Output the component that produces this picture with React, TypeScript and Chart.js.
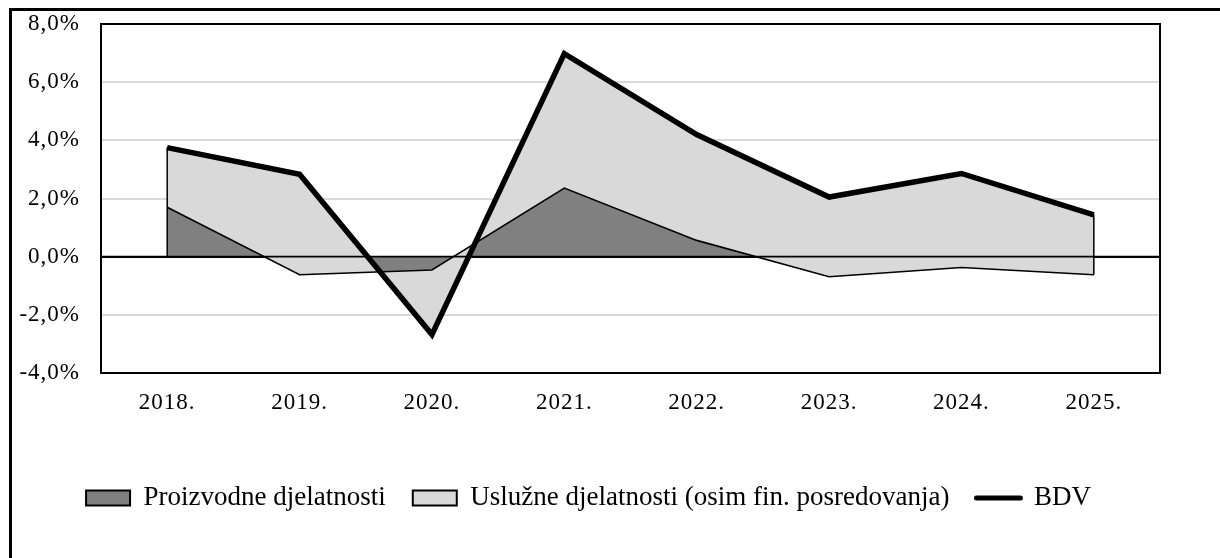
import React, { useEffect, useRef } from 'react';
import { Chart, registerables } from 'chart.js';

Chart.register(...registerables);

// ---- data (percent) ----
const years = ['2018.', '2019.', '2020.', '2021.', '2022.', '2023.', '2024.', '2025.'];
const proizvodne = [1.7, -0.62, -0.46, 2.36, 0.56, -0.69, -0.37, -0.62];
const usluzne = [2.05, 3.45, -2.22, 4.62, 3.64, 2.74, 3.23, 2.06];
const bdv = [3.75, 2.83, -2.68, 6.98, 4.2, 2.05, 2.86, 1.44];
const yMin = -4;
const yMax = 8;
const yStep = 2;

const seriesLabels = [
  'Proizvodne djelatnosti',
  'Uslužne djelatnosti (osim fin. posredovanja)',
  'BDV',
];

const FONT = "'Liberation Serif', 'Times New Roman', serif";

const fmtPct = (v: number) => Number(v).toFixed(1).replace('.', ',') + '%';

const decorPlugin = {
  id: 'decor',
  beforeDraw(chart: any) {
    chart.ctx.letterSpacing = '0px';
  },
  afterDatasetDraw(chart: any, args: any) {
    if (args.index !== 1) return;
    const { ctx, chartArea } = chart;
    const yScale = chart.scales.y;
    const y0 = yScale.getPixelForValue(0);
    ctx.save();
    ctx.strokeStyle = '#000';
    ctx.lineWidth = 1.75;
    ctx.beginPath();
    ctx.moveTo(chartArea.left, y0);
    ctx.lineTo(chartArea.right, y0);
    ctx.stroke();
    const low = chart.getDatasetMeta(0).data;
    const top = chart.getDatasetMeta(1).data;
    ctx.lineWidth = 1.5;
    [0, top.length - 1].forEach((i) => {
      ctx.beginPath();
      ctx.moveTo(low[i].x, y0);
      ctx.lineTo(low[i].x, low[i].y);
      ctx.moveTo(top[i].x, low[i].y);
      ctx.lineTo(top[i].x, top[i].y);
      ctx.stroke();
    });
    ctx.restore();
  },
  afterDatasetsDraw(chart: any) {
    chart.ctx.letterSpacing = '1px';
  },
  afterDraw(chart: any) {
    const { ctx, chartArea: a } = chart;
    ctx.letterSpacing = '0px';
    ctx.save();
    ctx.strokeStyle = '#000';
    ctx.lineWidth = 2;
    ctx.strokeRect(a.left, a.top, a.right - a.left, a.bottom - a.top);
    ctx.restore();
  },
};

export default function App() {
  const ref = useRef<HTMLCanvasElement>(null);

  useEffect(() => {
    if (!ref.current) return;
    const stackedTop = proizvodne.map((v, i) => v + usluzne[i]);
    const chart = new Chart(ref.current, {
      type: 'line',
      data: {
        labels: years,
        datasets: [
          {
            label: seriesLabels[0],
            data: proizvodne,
            backgroundColor: '#808080',
            borderColor: '#000',
            borderWidth: 1.6,
            fill: 'origin',
            pointRadius: 0,
            tension: 0,
            order: 2,
          },
          {
            label: seriesLabels[1],
            data: stackedTop,
            backgroundColor: '#d9d9d9',
            borderColor: '#000',
            borderWidth: 1.6,
            fill: '-1',
            pointRadius: 0,
            tension: 0,
            order: 1,
          },
          {
            label: seriesLabels[2],
            data: bdv,
            backgroundColor: '#000',
            borderColor: '#000',
            borderWidth: 5.5,
            borderJoinStyle: 'miter',
            borderCapStyle: 'butt',
            fill: false,
            pointRadius: 0,
            tension: 0,
            order: 0,
          },
        ],
      },
      options: {
        responsive: false,
        maintainAspectRatio: false,
        animation: false,
        events: [],
        layout: { padding: { left: 5, right: 60, top: 13, bottom: 36.5 } },
        scales: {
          x: {
            type: 'category',
            offset: true,
            grid: { display: false, drawTicks: false },
            border: { display: false },
            ticks: {
              padding: 16,
              color: '#000',
              font: { family: FONT, size: 23 },
              autoSkip: false,
              maxRotation: 0,
              z: 1,
            },
            afterFit: (s: any) => {
              s.height = 84.5;
            },
          },
          y: {
            min: yMin,
            max: yMax,
            grid: {
              color: (c: any) => (c.tick && c.tick.value === 0 ? '#000' : '#d9d9d9'),
              lineWidth: 2,
              drawTicks: false,
            },
            border: { display: false },
            ticks: {
              stepSize: yStep,
              padding: 21,
              color: '#000',
              font: { family: FONT, size: 23 },
              z: 1,
              callback: (v: any) => fmtPct(v),
            },
            afterFit: (s: any) => {
              s.width = 84;
              s.paddingTop = 0;
              s.paddingBottom = 0;
            },
          },
        },
        plugins: {
          filler: { drawTime: 'beforeDatasetsDraw' },
          tooltip: { enabled: false },
          title: { display: false },
          legend: {
            position: 'bottom',
            labels: {
              usePointStyle: true,
              pointStyleWidth: 44,
              boxHeight: 15,
              padding: 27,
              color: '#000',
              font: { family: FONT, size: 27 },
              generateLabels: (ch: any) =>
                ch.data.datasets.map((ds: any, i: number) => ({
                  text: ds.label,
                  fillStyle: i === 2 ? '#000' : ds.backgroundColor,
                  strokeStyle: '#000',
                  lineWidth: i === 2 ? 5 : 2,
                  pointStyle: i === 2 ? 'line' : 'rect',
                  lineCap: i === 2 ? 'round' : 'butt',
                  lineJoin: 'miter',
                  hidden: false,
                  datasetIndex: i,
                  fontColor: '#000',
                })),
            },
          },
        },
      },
      plugins: [decorPlugin],
    } as any);
    return () => chart.destroy();
  }, []);

  return (
    <div
      style={{
        position: 'fixed',
        left: 9,
        top: 8,
        width: 1300,
        height: 600,
        borderLeft: '3px solid #000',
        borderTop: '3px solid #000',
        background: '#fff',
      }}
    >
      <canvas ref={ref} width={1208} height={547} style={{ display: 'block', width: 1208, height: 547 }} />
    </div>
  );
}
